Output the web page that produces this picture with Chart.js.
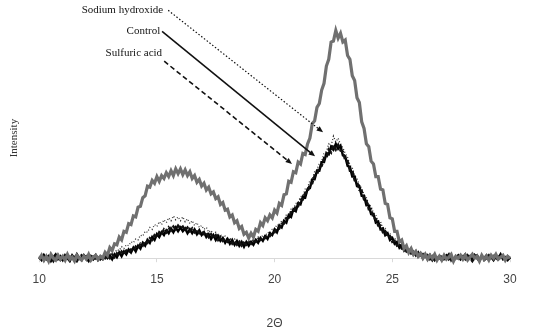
<!DOCTYPE html>
<html>
<head>
<meta charset="utf-8">
<script src="https://cdn.jsdelivr.net/npm/chart.js@4.4.0/dist/chart.umd.min.js"></script>
<style>
  html, body { margin: 0; padding: 0; background: #fff; }
</style>
</head>
<body>
<canvas id="xrd" width="539" height="333"></canvas>
<script>
// 2-theta positions (degrees)
const theta = [
  10.0, 10.1, 10.2, 10.3, 10.4, 10.5, 10.6, 10.7, 10.8, 10.9,
  11.0, 11.1, 11.2, 11.3, 11.4, 11.5, 11.6, 11.7, 11.8, 11.9,
  12.0, 12.1, 12.2, 12.3, 12.4, 12.5, 12.6, 12.7, 12.8, 12.9,
  13.0, 13.1, 13.2, 13.3, 13.4, 13.5, 13.6, 13.7, 13.8, 13.9,
  14.0, 14.1, 14.2, 14.3, 14.4, 14.5, 14.6, 14.7, 14.8, 14.9,
  15.0, 15.1, 15.2, 15.3, 15.4, 15.5, 15.6, 15.7, 15.8, 15.9,
  16.0, 16.1, 16.2, 16.3, 16.4, 16.5, 16.6, 16.7, 16.8, 16.9,
  17.0, 17.1, 17.2, 17.3, 17.4, 17.5, 17.6, 17.7, 17.8, 17.9,
  18.0, 18.1, 18.2, 18.3, 18.4, 18.5, 18.6, 18.7, 18.8, 18.9,
  19.0, 19.1, 19.2, 19.3, 19.4, 19.5, 19.6, 19.7, 19.8, 19.9,
  20.0, 20.1, 20.2, 20.3, 20.4, 20.5, 20.6, 20.7, 20.8, 20.9,
  21.0, 21.1, 21.2, 21.3, 21.4, 21.5, 21.6, 21.7, 21.8, 21.9,
  22.0, 22.1, 22.2, 22.3, 22.4, 22.5, 22.6, 22.7, 22.8, 22.9,
  23.0, 23.1, 23.2, 23.3, 23.4, 23.5, 23.6, 23.7, 23.8, 23.9,
  24.0, 24.1, 24.2, 24.3, 24.4, 24.5, 24.6, 24.7, 24.8, 24.9,
  25.0, 25.1, 25.2, 25.3, 25.4, 25.5, 25.6, 25.7, 25.8, 25.9,
  26.0, 26.1, 26.2, 26.3, 26.4, 26.5, 26.6, 26.7, 26.8, 26.9,
  27.0, 27.1, 27.2, 27.3, 27.4, 27.5, 27.6, 27.7, 27.8, 27.9,
  28.0, 28.1, 28.2, 28.3, 28.4, 28.5, 28.6, 28.7, 28.8, 28.9,
  29.0, 29.1, 29.2, 29.3, 29.4, 29.5, 29.6, 29.7, 29.8, 29.9,
  30.0
];

// grey trace (highest crystalline peak)
const treated = [
  2, 6, 1, 5, 0, 7, 3, 1, 6, 2,
  5, 1, 7, 2, 4, 0, 6, 3, 1, 5,
  2, 7, 1, 4, 6, 2, 5, 3, 9, 6,
  14, 11, 18, 17, 25, 22, 31, 30, 39, 38,
  47, 46, 56, 57, 66, 68, 78, 77, 84, 81,
  88, 83, 89, 86, 92, 88, 94, 89, 96, 91,
  96, 90, 95, 89, 93, 86, 89, 82, 85, 78,
  81, 74, 77, 70, 72, 65, 67, 59, 61, 53,
  54, 46, 48, 40, 42, 34, 36, 28, 30, 24,
  29, 25, 33, 31, 40, 37, 45, 42, 48, 45,
  53, 50, 60, 58, 69, 70, 83, 82, 93, 92,
  103, 101, 112, 111, 122, 128, 143, 146, 160, 164,
  178, 185, 203, 210, 228, 229, 240, 232, 237, 228,
  230, 214, 210, 193, 188, 170, 165, 145, 138, 122,
  119, 104, 101, 88, 88, 75, 74, 60, 59, 45,
  44, 31, 31, 20, 22, 13, 16, 9, 13, 7,
  10, 5, 8, 3, 7, 2, 6, 3, 7, 1,
  5, 1, 6, 2, 4, 7, 0, 5, 3, 6,
  2, 6, 1, 4, 7, 3, 5, 0, 6, 2,
  5, 1, 6, 3, 7, 2, 4, 6, 1, 5,
  3
];

const control = [
  4, 1, 6, 2, 5, 0, 4, 7, 2, 5,
  1, 6, 3, 0, 5, 2, 7, 3, 1, 6,
  3, 0, 5, 2, 6, 1, 4, 2, 6, 3,
  6, 2, 7, 4, 9, 5, 10, 7, 12, 9,
  14, 10, 16, 13, 19, 16, 22, 19, 25, 22,
  28, 25, 30, 27, 32, 29, 34, 30, 35, 31,
  35, 31, 34, 29, 33, 29, 33, 28, 32, 27,
  30, 25, 28, 23, 27, 22, 26, 21, 24, 19,
  23, 18, 22, 17, 21, 16, 20, 15, 20, 16,
  20, 17, 22, 19, 24, 21, 26, 23, 29, 27,
  33, 30, 37, 35, 42, 40, 48, 46, 54, 52,
  60, 59, 67, 66, 75, 76, 85, 85, 94, 94,
  103, 103, 112, 111, 119, 116, 122, 117, 120, 110,
  109, 99, 98, 88, 88, 78, 78, 68, 68, 58,
  58, 49, 49, 40, 41, 33, 34, 27, 29, 22,
  24, 18, 20, 14, 17, 11, 14, 9, 12, 7,
  10, 5, 8, 3, 7, 2, 6, 1, 5, 2,
  5, 1, 4, 6, 2, 5, 0, 4, 6, 2,
  4, 7, 2, 5, 1, 6, 3, 0, 5, 3,
  6, 2, 4, 1, 5, 3, 7, 2, 4, 1,
  4
];

const sulfuric = [
  2, 5, 1, 6, 3, 4, 0, 5, 3, 1,
  4, 2, 5, 1, 6, 3, 0, 4, 6, 2,
  5, 2, 4, 1, 3, 6, 2, 5, 3, 6,
  3, 7, 4, 8, 6, 10, 7, 11, 9, 12,
  11, 15, 13, 18, 16, 21, 19, 24, 22, 27,
  25, 30, 28, 33, 30, 35, 32, 36, 33, 37,
  34, 36, 32, 35, 31, 34, 30, 33, 29, 31,
  28, 30, 25, 28, 24, 27, 22, 25, 21, 23,
  20, 22, 18, 21, 17, 20, 16, 19, 17, 20,
  18, 21, 20, 23, 22, 25, 24, 27, 26, 30,
  30, 35, 34, 39, 39, 45, 45, 51, 51, 57,
  57, 64, 64, 71, 72, 80, 81, 89, 90, 98,
  99, 107, 107, 116, 113, 121, 116, 121, 115, 114,
  105, 104, 94, 94, 84, 83, 74, 73, 64, 63,
  54, 54, 45, 44, 37, 37, 30, 31, 25, 26,
  20, 21, 16, 17, 13, 14, 10, 12, 8, 10,
  6, 9, 4, 7, 3, 6, 2, 5, 1, 4,
  3, 6, 2, 4, 7, 1, 5, 3, 6, 2,
  5, 2, 6, 3, 0, 4, 6, 2, 5, 1,
  3, 6, 2, 5, 1, 4, 6, 3, 0, 5,
  2
];

const sodium = [
  5, 2, 7, 3, 1, 6, 4, 2, 7, 3,
  6, 2, 4, 7, 1, 5, 3, 6, 2, 4,
  1, 6, 3, 7, 2, 5, 4, 6, 3, 8,
  6, 10, 8, 12, 11, 15, 13, 17, 16, 20,
  19, 23, 22, 27, 26, 31, 30, 35, 33, 38,
  36, 41, 38, 43, 40, 45, 42, 47, 43, 46,
  42, 46, 41, 44, 39, 42, 37, 40, 35, 37,
  33, 35, 30, 32, 28, 30, 26, 28, 24, 26,
  22, 24, 21, 23, 19, 22, 18, 21, 18, 21,
  19, 23, 21, 25, 23, 27, 26, 30, 29, 33,
  33, 38, 37, 42, 42, 48, 48, 54, 54, 60,
  61, 67, 68, 75, 76, 84, 85, 93, 95, 102,
  104, 112, 114, 122, 120, 130, 124, 128, 121, 118,
  112, 108, 100, 97, 89, 86, 79, 76, 69, 66,
  59, 57, 50, 48, 42, 41, 34, 34, 28, 29,
  23, 24, 19, 19, 15, 16, 12, 13, 10, 11,
  7, 10, 5, 8, 4, 7, 3, 6, 2, 5,
  6, 2, 5, 1, 7, 3, 4, 6, 2, 5,
  3, 6, 1, 5, 2, 7, 4, 1, 6, 3,
  2, 5, 7, 3, 6, 1, 4, 5, 2, 6,
  3
];

const xTicks = [10, 15, 20, 25, 30];

// callouts: label, where the text sits, and the arrow (in data units)
const noteLabels = ['Sodium hydroxide', 'Control', 'Sulfuric acid'];
const noteText = [[15.27, 261], [15.14, 239], [15.22, 216]];
const noteFrom = [[15.48, 261], [15.22, 239], [15.31, 208]];
const noteTo = [[22.06, 134], [21.72, 109], [20.74, 101]];
const noteDash = [[1.5, 2], [], [5, 3]];

const pts = (arr) => arr.map((v, i) => ({ x: theta[i], y: v }));

const callouts = {
	id: 'callouts',
	afterDatasetsDraw(chart) {
		const { ctx, scales: { x, y } } = chart;
		ctx.save();
		noteLabels.forEach((txt, i) => {
			ctx.font = '11px "Liberation Serif", serif';
			ctx.fillStyle = '#111';
			ctx.textAlign = 'right';
			ctx.textBaseline = 'middle';
			ctx.fillText(txt, x.getPixelForValue(noteText[i][0]), y.getPixelForValue(noteText[i][1]));

			const x0 = x.getPixelForValue(noteFrom[i][0]), y0 = y.getPixelForValue(noteFrom[i][1]);
			const x1 = x.getPixelForValue(noteTo[i][0]), y1 = y.getPixelForValue(noteTo[i][1]);
			const a = Math.atan2(y1 - y0, x1 - x0);
			const hl = 7;
			ctx.strokeStyle = '#111';
			ctx.lineWidth = i == 0 ? 1.2 : 1.6;
			ctx.setLineDash(noteDash[i]);
			ctx.beginPath();
			ctx.moveTo(x0, y0);
			ctx.lineTo(x1 - Math.cos(a) * hl * 0.8, y1 - Math.sin(a) * hl * 0.8);
			ctx.stroke();
			ctx.setLineDash([]);
			ctx.fillStyle = '#111';
			ctx.beginPath();
			ctx.moveTo(x1, y1);
			ctx.lineTo(x1 - hl * Math.cos(a - 0.4), y1 - hl * Math.sin(a - 0.4));
			ctx.lineTo(x1 - hl * Math.cos(a + 0.4), y1 - hl * Math.sin(a + 0.4));
			ctx.closePath();
			ctx.fill();
		});
		ctx.restore();
	}
};

const ctx = document.getElementById('xrd').getContext('2d');
const myChart = new Chart(ctx, {
	type: 'line',
	data: {
		datasets: [
			{ label: 'Treated', data: pts(treated), borderColor: '#707070', borderWidth: 3.2 },
			{ label: 'Sulfuric acid', data: pts(sulfuric), borderColor: '#111', borderWidth: 2.4, borderDash: [5, 2] },
			{ label: 'Control', data: pts(control), borderColor: '#000', borderWidth: 2.4 },
			{ label: 'Sodium hydroxide', data: pts(sodium), borderColor: '#333', borderWidth: 1.3, borderDash: [1, 2] }
		]
	},
	options: {
		responsive: false,
		animation: false,
		layout: { padding: { left: 4, right: 29, top: 18, bottom: 0 } },
		elements: { point: { radius: 0 }, line: { tension: 0 } },
		datasets: { line: { clip: false } },
		plugins: { legend: { display: false }, tooltip: { enabled: false } },
		scales: {
			x: {
				type: 'linear',
				min: 10,
				max: 30,
				afterBuildTicks: (s) => { s.ticks = xTicks.map(v => ({ value: v })); },
				grid: { drawOnChartArea: false, drawTicks: true, tickLength: 4, color: '#d9d9d9' },
				border: { color: '#d9d9d9' },
				ticks: { padding: 10, color: '#444', font: { family: '"Liberation Sans", sans-serif', size: 12 } },
				title: { display: true, text: '2Θ', color: '#444', font: { family: '"Liberation Sans", sans-serif', size: 12 }, padding: { top: 20, bottom: 2 } }
			},
			y: {
				min: 3,
				max: 253,
				grid: { display: false },
				border: { display: false },
				ticks: { display: false },
				title: { display: true, text: 'Intensity', color: '#333', font: { family: '"Liberation Serif", serif', size: 11 }, padding: { top: 4, bottom: 10 } }
			}
		}
	},
	plugins: [callouts]
});
</script>
</body>
</html>
